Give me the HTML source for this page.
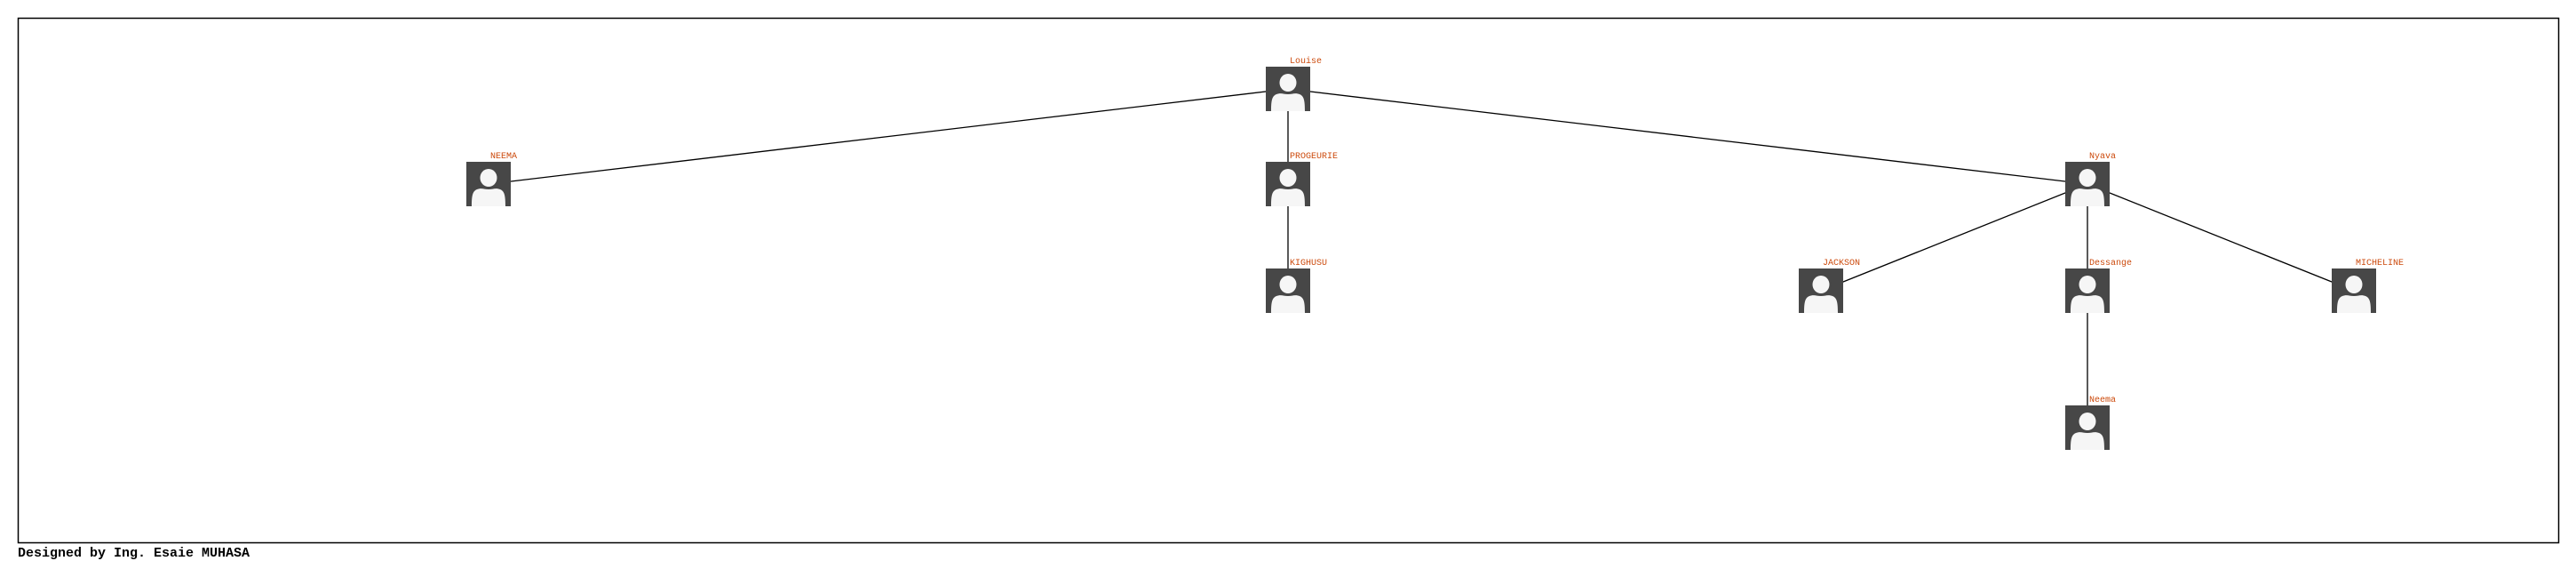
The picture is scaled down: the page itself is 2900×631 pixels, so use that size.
<!DOCTYPE html>
<html><head><meta charset="utf-8"><style>
html,body{margin:0;padding:0;background:#fff;width:2900px;height:631px;overflow:hidden}
svg{display:block}
</style></head><body>
<svg id="tree" width="2900" height="631" xmlns="http://www.w3.org/2000/svg">
<rect x="20.5" y="20.5" width="2860" height="590" fill="none" stroke="#000" stroke-width="1.5"/>
<g id="edges"></g>
<g id="nodes"></g>
<text x="20" y="626" font-family="Liberation Mono, monospace" font-weight="bold" font-size="15" fill="#000">Designed by Ing. Esaie MUHASA</text>
</svg>
<script>
const names = ["Louise","NEEMA","PROGEURIE","Nyava","KIGHUSU","JACKSON","Dessange","MICHELINE","Neema"];
const parents = [-1,0,0,0,2,3,3,3,6];
const colX = [1450,550,1450,2350,1450,2050,2350,2650,2350];
const rowY = [75,182,182,182,302,302,302,302,456];
const NS="http://www.w3.org/2000/svg";
const edges=document.getElementById('edges'), nodes=document.getElementById('nodes');
function mk(t,a){const e=document.createElementNS(NS,t);for(const k in a)e.setAttribute(k,a[k]);return e;}
names.forEach((n,i)=>{
  const p=parents[i];
  if(p>=0){
    const l=mk('line',{x1:colX[p],y1:rowY[p]+25,x2:colX[i],y2:rowY[i]+25,stroke:'#000','stroke-width':1.3});
    
    
    edges.appendChild(l);
  }
  const g=mk('g',{transform:'translate('+(colX[i]-25)+','+rowY[i]+')'});
  
  
  g.appendChild(mk('rect',{x:0,y:0,width:50,height:50,fill:'#474747'}));
  g.appendChild(mk('path',{d:'M6,50 C6,38 7,33 12,31 C17,29 20,31 25,31 C30,31 33,29 38,31 C43,33 44,38 44,50 Z',fill:'#f6f6f6'}));
  g.appendChild(mk('circle',{cx:25,cy:18,r:11.5,fill:'#474747'}));
  g.appendChild(mk('ellipse',{cx:25,cy:18,rx:9.5,ry:10,fill:'#f6f6f6'}));
  nodes.appendChild(g);
  const t=mk('text',{x:colX[i]+2,y:rowY[i]-4,'font-family':'Liberation Mono, monospace','font-size':10,fill:'#cc4a0c'});
  t.textContent=n;
  
  
  nodes.appendChild(t);
});
</script>
</body></html>
